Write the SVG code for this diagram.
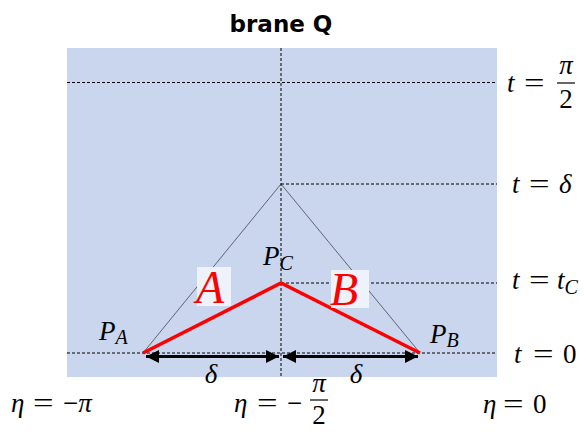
<svg xmlns="http://www.w3.org/2000/svg" width="584" height="432" viewBox="0 0 584 432">
<style>
.dash{stroke:#000;stroke-width:1;stroke-dasharray:3,2;fill:none}
.thin{stroke:#333;stroke-width:0.7;fill:none}
.red{stroke:#ff0000;stroke-width:3.5;fill:none;stroke-linejoin:miter}
.m{font-size:27px;fill:#000}
.i{font-style:italic}
.sub{font-size:20px}
.big{font-style:italic;font-size:46px;fill:#ff0000}
.title{font-weight:bold;font-size:23px;fill:#000}
.arr{stroke:#000;stroke-width:3;fill:none}
.bar{stroke:#000;stroke-width:1.2}
</style>
<defs>
<marker id="ah" viewBox="0 0 10 10" refX="10" refY="5" markerWidth="13" markerHeight="13" markerUnits="userSpaceOnUse" orient="auto-start-reverse">
<path d="M0,0 L10,5 L0,10 Z" fill="#000"/>
</marker>
</defs>
<rect id="bg" x="67" y="48" width="430" height="329" fill="#c9d6ee"/>
<g id="title"><text class="title" font-family="DejaVu Sans, sans-serif" x="281" y="32" text-anchor="middle">brane Q</text></g>
<g id="connectors">
<line class="dash" x1="281" y1="48" x2="281" y2="377"/>
<line class="dash" x1="67" y1="82.5" x2="497" y2="82.5"/>
<line class="dash" x1="281" y1="184" x2="497" y2="184"/>
<line class="dash" x1="281" y1="283" x2="497" y2="283"/>
<line class="dash" x1="67" y1="353" x2="497" y2="353"/>
<polyline class="thin" points="143,353 281,184 420,353"/>
<polyline class="red" points="143,353 281,283 420,353"/>
<line class="arr" x1="146" y1="356.5" x2="279" y2="356.5" marker-start="url(#ah)" marker-end="url(#ah)"/>
<line class="arr" x1="283" y1="356.5" x2="418" y2="356.5" marker-start="url(#ah)" marker-end="url(#ah)"/>
</g>
<g font-family="Liberation Serif, DejaVu Serif, serif">
<g id="regionA">
<rect x="197" y="267" width="34" height="39" fill="#eef2fb"/>
<text class="big" x="196" y="303">A</text>
</g>
<g id="regionB">
<rect x="331" y="270" width="38" height="38" fill="#eef2fb"/>
<text class="big" x="330" y="305">B</text>
</g>
<g id="PA"><text class="m" x="99" y="340"><tspan class="i">P</tspan><tspan class="i sub" dy="4">A</tspan></text></g>
<g id="PB"><text class="m" x="430" y="343"><tspan class="i">P</tspan><tspan class="i sub" dy="4">B</tspan></text></g>
<g id="PC"><text class="m" x="263" y="265"><tspan class="i">P</tspan><tspan class="i sub" dy="5">C</tspan></text></g>
<g id="delta1"><text class="m i" x="211" y="383" text-anchor="middle">δ</text></g>
<g id="delta2"><text class="m i" x="356" y="383" text-anchor="middle">δ</text></g>
<g id="t_pi2">
<text class="m i" x="507" y="92">t</text>
<text class="m" transform="translate(524,92) scale(1.35,1)">=</text>
<text class="m i" x="566" y="74" text-anchor="middle">π</text>
<line class="bar" x1="557" y1="83" x2="575" y2="83"/>
<text class="m" x="566" y="108" text-anchor="middle">2</text>
</g>
<g id="t_delta">
<text class="m i" x="512" y="193">t</text>
<text class="m" transform="translate(529,193) scale(1.35,1)">=</text>
<text class="m i" x="559" y="193">δ</text>
</g>
<g id="t_tc">
<text class="m i" x="512" y="289">t</text>
<text class="m" transform="translate(529,289) scale(1.35,1)">=</text>
<text class="m" x="557" y="289"><tspan class="i">t</tspan><tspan class="i sub" dy="5">C</tspan></text>
</g>
<g id="t_0">
<text class="m i" x="514" y="363">t</text>
<text class="m" transform="translate(533,363) scale(1.35,1)">=</text>
<text class="m" x="563" y="363">0</text>
</g>
<g id="eta_pi">
<text class="m i" x="11" y="412">η</text>
<text class="m" transform="translate(33,412) scale(1.35,1)">=</text>
<text class="m" x="63" y="412">−<tspan class="i">π</tspan></text>
</g>
<g id="eta_pi2">
<text class="m i" x="234" y="412">η</text>
<text class="m" transform="translate(257,412) scale(1.35,1)">=</text>
<text class="m" x="287" y="412">−</text>
<text class="m i" x="319" y="392" text-anchor="middle">π</text>
<line class="bar" x1="310" y1="400" x2="328" y2="400"/>
<text class="m" x="319" y="424" text-anchor="middle">2</text>
</g>
<g id="eta_0">
<text class="m i" x="483" y="413">η</text>
<text class="m" transform="translate(503,413) scale(1.35,1)">=</text>
<text class="m" x="533" y="413">0</text>
</g>
</g>
</svg>
